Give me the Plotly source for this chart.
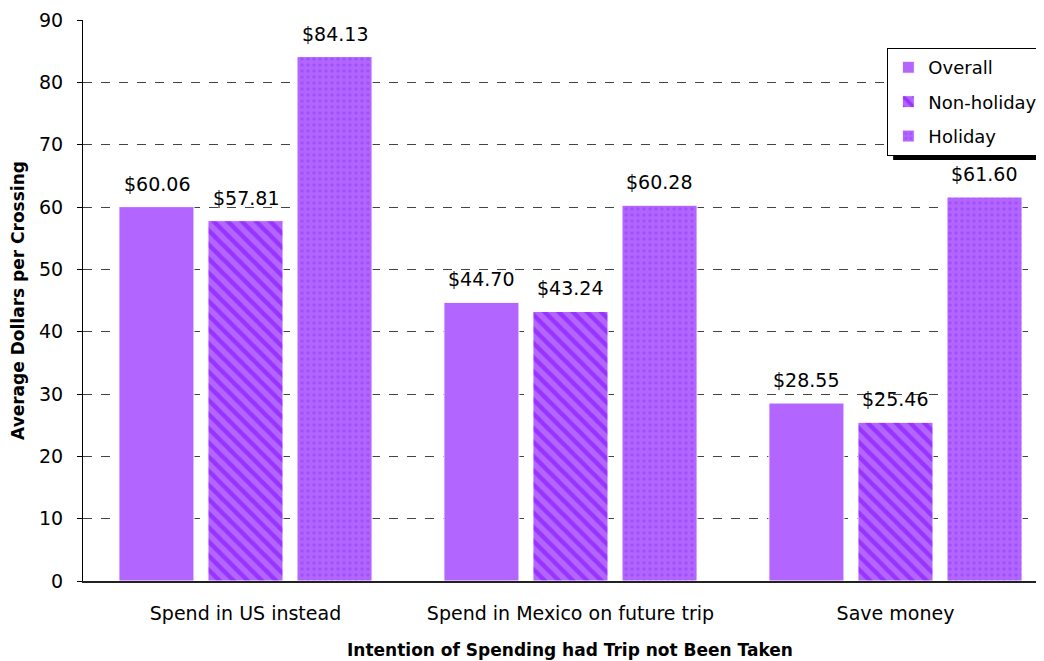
import plotly.graph_objects as go

categories = ["Spend in US instead", "Spend in Mexico on future trip", "Save money"]
overall = [60.06, 44.70, 28.55]
non_holiday = [57.81, 43.24, 25.46]
holiday = [84.13, 60.28, 61.60]
y_ticks = [0, 10, 20, 30, 40, 50, 60, 70, 80, 90]

FONT = "DejaVu Sans"
BASE = "#B366FF"

series = [
    ("Overall", overall, None),
    ("Non-holiday", non_holiday,
     dict(shape="\\", bgcolor=BASE, fgcolor="#9933FF", size=10, solidity=0.45, fillmode="replace")),
    ("Holiday", holiday,
     dict(shape=".", bgcolor=BASE, fgcolor="#A050FF", size=6, solidity=0.25, fillmode="replace")),
]

fig = go.Figure()
for i, (name, vals, pat) in enumerate(series):
    marker = dict(color=BASE, line=dict(color="white", width=1))
    if pat:
        marker["pattern"] = pat
    fig.add_trace(go.Bar(name=name, x=categories, y=vals, marker=marker,
                         legendgroup=name))

# value labels above the bars (offset by trace slot inside each group)
SLOT_PX = 89
for i, (name, vals, pat) in enumerate(series):
    for c, v in zip(categories, vals):
        fig.add_annotation(x=c, y=v, xref="x", yref="y", text="$%.2f" % v,
                           showarrow=False, xshift=(i - 1) * SLOT_PX, yshift=23,
                           yanchor="middle", xanchor="center",
                           font=dict(family=FONT, size=19, color="black"))

fig.update_layout(
    width=1036, height=653,
    margin=dict(l=75, r=0, t=12, b=80),
    paper_bgcolor="white", plot_bgcolor="white",
    barmode="group", bargap=0.178, bargroupgap=0.157,
    font=dict(family=FONT, size=18, color="black"),
    showlegend=True,
    legend=dict(x=0.837, y=0.95, xanchor="left", yanchor="top",
                bgcolor="white", bordercolor="black", borderwidth=1,
                font=dict(family=FONT, size=18, color="black"),
                itemwidth=30, tracegroupgap=8),
    xaxis=dict(range=[-0.5, 2.457], showline=True, linecolor="#222222", linewidth=2,
               ticks="", showgrid=False, ticklabelstandoff=14,
               tickfont=dict(family=FONT, size=19, color="black")),
    yaxis=dict(range=[0, 90], tickvals=y_ticks, showline=True, linecolor="black",
               linewidth=1, ticks="outside", ticklen=5, tickcolor="black",
               ticklabelstandoff=10,
               showgrid=True, gridcolor="#444444", griddash="dash", gridwidth=1,
               zeroline=False,
               tickfont=dict(family=FONT, size=19, color="black"),
               title=dict(text="<b>Average Dollars per Crossing</b>",
                          font=dict(family=FONT, size=17, color="black"),
                          standoff=12)),
)

fig.add_annotation(text="<b>Intention of Spending had Trip not Been Taken</b>",
                   xref="x", yref="paper", x=1.0, y=0, yshift=-69,
                   showarrow=False, xanchor="center", yanchor="middle",
                   font=dict(family=FONT, size=17, color="black"))

# legend shadow
fig.add_shape(type="line", xref="paper", yref="paper",
              x0=0.843, x1=1.0, y0=0.754, y1=0.754,
              line=dict(color="black", width=4))

fig.write_html("out.html")
